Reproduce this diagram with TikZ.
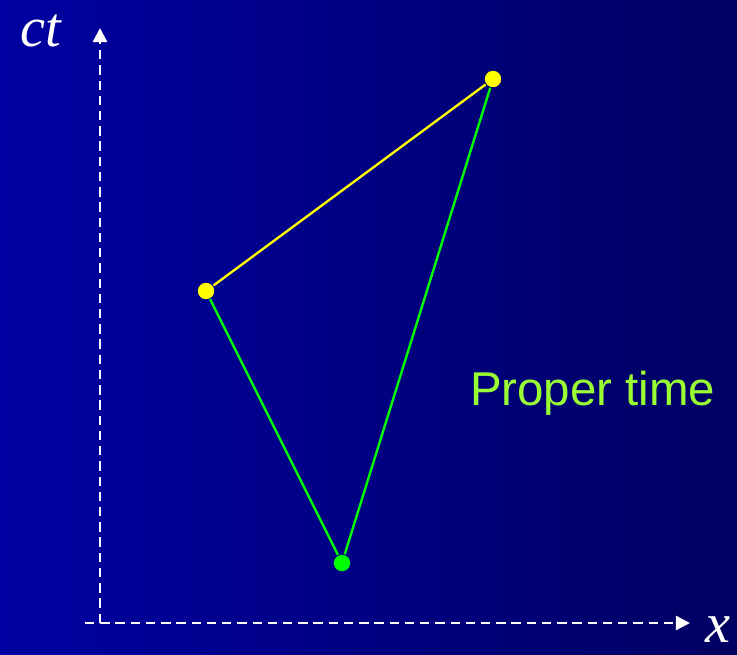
\documentclass[tikz,border=0pt]{standalone}
\usepackage{fontspec}
\setmainfont{Liberation Serif}
\setsansfont{Liberation Sans}
\usetikzlibrary{arrows.meta, positioning}
\definecolor{cbgl}{HTML}{0000A2}
\definecolor{cbgr}{HTML}{000062}
\definecolor{cyel}{HTML}{FFFF00}
\definecolor{cgrn}{HTML}{00FF00}
\definecolor{clime}{HTML}{99FF33}
\tikzset{
  every picture/.style={x=0.03cm, y=-0.03cm, line width=1.7pt},
  axis/.style={draw=white, dash pattern=on 8pt off 5pt, line width=2pt, -{Triangle[length=12pt, width=12pt]}},
  event/.style={circle, fill=#1, inner sep=0pt, minimum size=14pt},
  event/.default=cyel,
  line/.style={draw=#1, line width=2pt},
  axlabel/.style={font=\fontsize{48}{48}\selectfont\itshape, text=white, inner sep=0pt},
  note/.style={font=\sffamily\fontsize{40.5}{40.5}\selectfont, text=clime, inner sep=0pt},
}
\begin{document}
\begin{tikzpicture}
  % background
  \fill[left color=cbgl, right color=cbgr] (0,0) rectangle (737,655);
  \useasboundingbox (0,0) rectangle (737,655);
  % axes
  \coordinate (ctEnd) at (100,28);
  \coordinate (xEnd) at (690,623);
  \draw[axis] (100,623) -- (ctEnd);
  \draw[axis] (85,623) -- (xEnd);
  \node[axlabel] (ct) at (41,31) {ct};
  \node[axlabel] (xl) at (718,630) {x};
  % events
  \node[event] (a) at (206,291) {};
  \node[event] (b) at (493,79) {};
  \node[event=cgrn] (c) at (342,563) {};
  \draw[line=cyel] (a) -- (b);
  \draw[line=cgrn] (a) -- (c);
  \draw[line=cgrn] (c) -- (b);
  \node[note, anchor=west] (pt) at (469,393) {Proper time};
\end{tikzpicture}
\end{document}
